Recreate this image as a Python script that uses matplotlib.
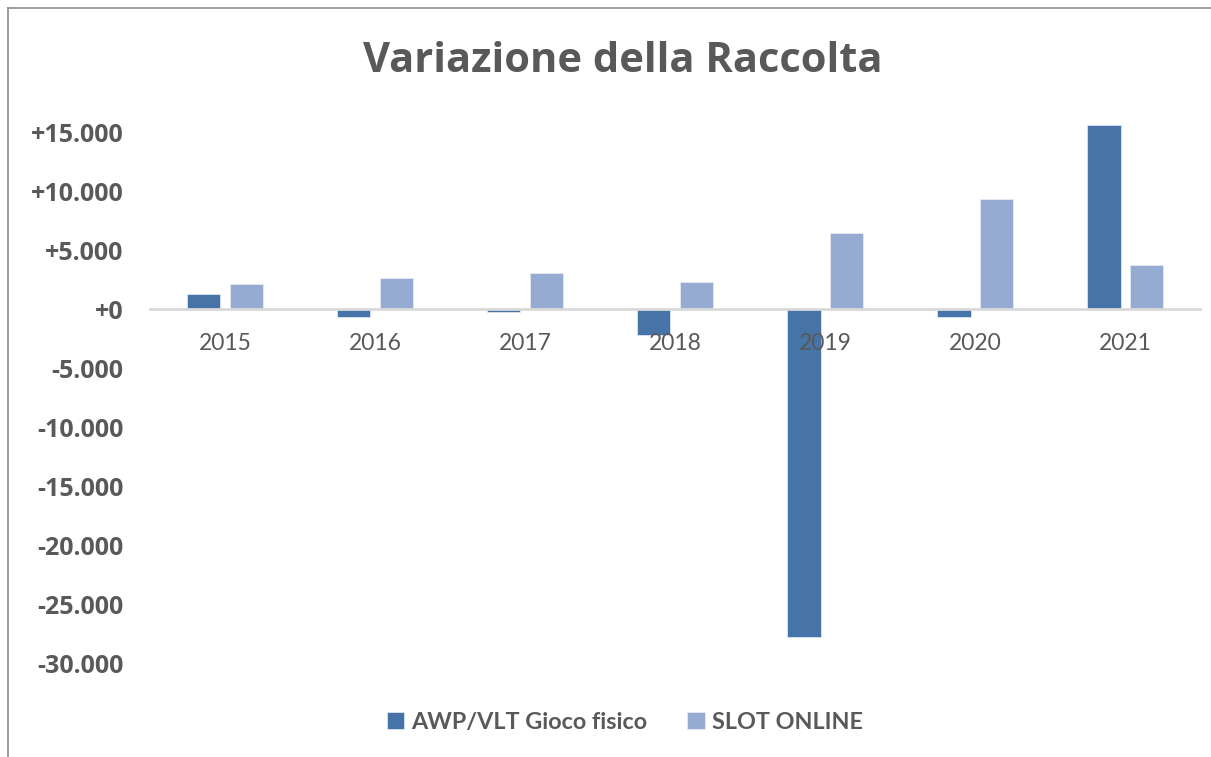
import numpy as np
import matplotlib.pyplot as plt
from matplotlib.lines import Line2D
from matplotlib.ticker import FuncFormatter

# Variazione annua della raccolta (milioni di euro)
anni = ["2015", "2016", "2017", "2018", "2019", "2020", "2021"]
awp_vlt = [1310, -610, -240, -2130, -27780, -660, 15640]
slot_online = [2160, 2670, 3090, 2300, 6460, 9340, 3770]

serie_labels = ["AWP/VLT Gioco fisico", "SLOT ONLINE"]
colore_awp = "#4674A8"
colore_slot = "#96ABD2"
grigio = "#595959"

fig = plt.figure(figsize=(12.11, 7.57), dpi=100)
ax = fig.add_axes([0.1239, 0.1080, 0.8671, 0.7326])

x = np.arange(len(anni))
larghezza = 0.223
scarto = 0.142

b1 = ax.bar(x - scarto, awp_vlt, larghezza, color=colore_awp,
            edgecolor="#DCE3F0", linewidth=0.6, label=serie_labels[0])
b2 = ax.bar(x + scarto, slot_online, larghezza, color=colore_slot,
            edgecolor="#E6EBF5", linewidth=0.6, label=serie_labels[1])

ax.set_xlim(-0.5, len(anni) - 0.5)
ax.set_ylim(-31000, 16000)
ax.set_yticks(np.arange(-30000, 15001, 5000))


def formato(v, pos):
    s = f"{abs(int(v)):,}".replace(",", ".")
    if v > 0:
        return "+" + s
    if v < 0:
        return "-" + s
    return "+0"


ax.yaxis.set_major_formatter(FuncFormatter(formato))

for side in ["top", "right", "left"]:
    ax.spines[side].set_visible(False)
ax.spines["bottom"].set_position(("data", 0))
ax.spines["bottom"].set_color("#D9D9D9")
ax.spines["bottom"].set_linewidth(2)

ax.set_xticks(x)
ax.set_xticklabels(anni)
ax.tick_params(axis="x", length=0, pad=17, labelsize=16.5, labelcolor=grigio)
ax.tick_params(axis="y", length=0, pad=19, labelsize=18, labelcolor=grigio)
for t in ax.get_xticklabels():
    t.set_fontfamily("Lato")
for t in ax.get_yticklabels():
    t.set_fontfamily("Open Sans")
    t.set_fontweight("bold")

fig.text(0.514, 0.919, "Variazione della Raccolta", ha="center", va="center",
         fontsize=30, fontweight="bold", color=grigio, family="Open Sans")

leg = fig.legend(handles=[b1, b2], loc="center", bbox_to_anchor=(0.516, 0.046),
                 ncol=2, frameon=False, handlelength=0.75, handleheight=0.75,
                 handletextpad=0.3, columnspacing=1.7,
                 prop={"family": "Lato", "weight": "bold", "size": 16.8})
for t in leg.get_texts():
    t.set_color(grigio)

# cornice esterna del grafico
fig.add_artist(Line2D([8 / 1211, 8 / 1211], [0, 1 - 8 / 757],
                      transform=fig.transFigure, color="#8C8C8C", linewidth=1.2))
fig.add_artist(Line2D([8 / 1211, 1], [1 - 8 / 757, 1 - 8 / 757],
                      transform=fig.transFigure, color="#8C8C8C", linewidth=1.2))

fig.savefig("out.png", dpi=100, facecolor="white")
